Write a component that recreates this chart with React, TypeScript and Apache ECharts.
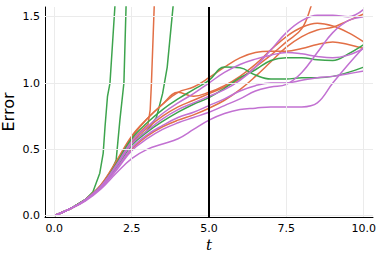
import React, { useEffect, useRef } from "react";
import * as echarts from "echarts";

const GREEN = "#3da44d";
const ORANGE = "#e26f46";
const PURPLE = "#c271d2";

const xTicks = [0, 2.5, 5, 7.5, 10];
const yTicks = [0, 0.5, 1.0, 1.5];
const markT = 5;

const tStd = [0, 0.5, 1, 1.5, 2, 2.5, 3, 3.5, 4, 4.5, 5, 5.5, 6, 6.5, 7, 7.5, 8, 8.5, 9, 9.5, 10];

const greenE = [0, 0.05, 0.12, 0.22, 0.39, 0.58, 0.7, 0.8, 0.88, 0.95, 1.02, 1.12, 1.115, 1.06, 1.03, 1.03, 1.04, 1.04, 1.05, 1.08, 1.12];
const greenF = [0, 0.05, 0.12, 0.22, 0.36, 0.53, 0.63, 0.71, 0.78, 0.84, 0.89, 0.96, 1.04, 1.1, 1.17, 1.19, 1.19, 1.175, 1.17, 1.22, 1.29];
const orangeO2 = [0, 0.05, 0.12, 0.23, 0.4, 0.59, 0.73, 0.84, 0.93, 0.9, 0.93, 0.98, 1.05, 1.14, 1.25, 1.35, 1.42, 1.45, 1.43, 1.38, 1.31];
const orangeO3 = [0, 0.05, 0.115, 0.21, 0.35, 0.5, 0.6, 0.67, 0.72, 0.76, 0.81, 0.87, 0.95, 1.05, 1.16, 1.27, 1.35, 1.4, 1.42, 1.47, 1.52];
const orangeO4 = [0, 0.05, 0.12, 0.23, 0.41, 0.6, 0.73, 0.84, 0.93, 0.97, 1.04, 1.12, 1.19, 1.23, 1.24, 1.24, 1.26, 1.29, 1.31, 1.29, 1.26];
const purpleP1 = [0, 0.05, 0.12, 0.22, 0.37, 0.54, 0.64, 0.73, 0.8, 0.85, 0.9, 0.95, 1.02, 1.12, 1.25, 1.38, 1.47, 1.51, 1.51, 1.5, 1.555];
const purpleP2 = [0, 0.05, 0.12, 0.22, 0.38, 0.56, 0.67, 0.77, 0.85, 0.92, 1.0, 1.08, 1.14, 1.18, 1.21, 1.23, 1.22, 1.2, 1.19, 1.21, 1.26];
const purpleP3 = [0, 0.05, 0.115, 0.21, 0.35, 0.51, 0.61, 0.68, 0.74, 0.78, 0.83, 0.88, 0.94, 0.98, 1.0, 1.0, 1.02, 1.04, 1.05, 1.07, 1.09];
const purpleP4 = [0, 0.05, 0.115, 0.21, 0.34, 0.49, 0.58, 0.65, 0.7, 0.74, 0.78, 0.83, 0.88, 0.94, 0.97, 0.99, 1.08, 1.23, 1.38, 1.47, 1.5];
const purpleP5 = [0, 0.05, 0.11, 0.2, 0.32, 0.43, 0.5, 0.54, 0.58, 0.65, 0.72, 0.77, 0.8, 0.81, 0.82, 0.82, 0.82, 0.85, 1.0, 1.14, 1.27];

const tO1 = [0, 0.5, 1, 1.5, 2, 2.5, 3, 3.5, 4, 4.5, 5, 5.5, 6, 6.5, 7, 7.5, 8, 8.3, 8.5];
const orangeO1 = [0, 0.05, 0.115, 0.22, 0.38, 0.55, 0.66, 0.75, 0.82, 0.87, 0.92, 0.97, 1.03, 1.12, 1.21, 1.31, 1.41, 1.58, 1.75];

const tA = [0, 0.5, 1, 1.25, 1.47, 1.58, 1.64, 1.72, 1.8, 1.96, 2.0];
const greenA = [0, 0.05, 0.12, 0.18, 0.32, 0.47, 0.67, 0.9, 1.0, 1.58, 1.7];

const tB = [0, 0.5, 1, 1.5, 1.75, 2.0, 2.12, 2.25, 2.32, 2.4];
const greenB = [0, 0.05, 0.12, 0.22, 0.29, 0.42, 0.72, 1.0, 1.58, 1.9];

const tC = [0, 0.5, 1, 1.5, 2, 2.5, 2.9, 3.03, 3.1, 3.14, 3.23, 3.3];
const orangeC = [0, 0.05, 0.12, 0.22, 0.39, 0.57, 0.66, 0.69, 0.8, 1.0, 1.58, 1.9];

const tD = [0, 0.5, 1, 1.5, 2, 2.5, 3, 3.3, 3.5, 3.65, 3.84, 3.9];
const greenD = [0, 0.05, 0.12, 0.22, 0.38, 0.55, 0.64, 0.74, 0.92, 1.12, 1.58, 1.75];

const lines: { t: number[]; v: number[]; color: string; smooth: boolean }[] = [
  { t: tA, v: greenA, color: GREEN, smooth: false },
  { t: tB, v: greenB, color: GREEN, smooth: false },
  { t: tC, v: orangeC, color: ORANGE, smooth: false },
  { t: tD, v: greenD, color: GREEN, smooth: false },
  { t: tO1, v: orangeO1, color: ORANGE, smooth: true },
  { t: tStd, v: orangeO2, color: ORANGE, smooth: true },
  { t: tStd, v: orangeO3, color: ORANGE, smooth: true },
  { t: tStd, v: orangeO4, color: ORANGE, smooth: true },
  { t: tStd, v: greenE, color: GREEN, smooth: true },
  { t: tStd, v: greenF, color: GREEN, smooth: true },
  { t: tStd, v: purpleP1, color: PURPLE, smooth: true },
  { t: tStd, v: purpleP2, color: PURPLE, smooth: true },
  { t: tStd, v: purpleP3, color: PURPLE, smooth: true },
  { t: tStd, v: purpleP4, color: PURPLE, smooth: true },
  { t: tStd, v: purpleP5, color: PURPLE, smooth: true },
];

export default function App() {
  const ref = useRef<HTMLDivElement>(null);
  useEffect(() => {
    if (!ref.current) return;
    const chart = echarts.init(ref.current, undefined, { renderer: "svg" });
    const series: any[] = [
      {
        type: "line",
        data: [],
        silent: true,
        z: 0,
        markLine: {
          silent: true,
          symbol: "none",
          label: { show: false },
          lineStyle: { color: "#ebebeb", width: 1, type: "solid" },
          data: [
            ...xTicks.map((x) => ({ xAxis: x })),
            ...yTicks.map((y) => ({ yAxis: y })),
          ],
        },
      },
      ...lines.map((l) => ({
        type: "line",
        data: l.t.map((x, i) => [x, l.v[i]]),
        smooth: l.smooth ? 0.4 : false,
        showSymbol: false,
        symbol: "none",
        clip: true,
        lineStyle: { color: l.color, width: 1.5 },
        itemStyle: { color: l.color },
        z: 2,
      })),
      {
        type: "line",
        data: [],
        silent: true,
        z: 5,
        markLine: {
          silent: true,
          symbol: "none",
          label: { show: false },
          lineStyle: { color: "#000", width: 2, type: "solid" },
          data: [{ xAxis: markT }],
        },
      },
    ];
    chart.setOption({
      animation: false,
      backgroundColor: "#fff",
      grid: { left: 45, right: 8, top: 7, bottom: 37, containLabel: false, outerBoundsMode: "none" },
      xAxis: {
        type: "value",
        min: -0.3,
        max: 10.3,
        name: "t",
        nameLocation: "middle",
        nameGap: 20,
        nameMoveOverlap: false,
        nameTextStyle: { fontFamily: "DejaVu Serif", fontStyle: "italic", fontSize: 15, color: "#000" },
        axisLine: { show: true, onZero: false, lineStyle: { color: "#000", width: 1 } },
        axisTick: { show: true, inside: true, length: 4, customValues: xTicks, lineStyle: { color: "#000" } },
        axisLabel: {
          customValues: xTicks,
          formatter: (v: number) => v.toFixed(1),
          fontFamily: "DejaVu Sans",
          fontSize: 11,
          color: "#000",
          margin: 6,
        },
        splitLine: { show: false },
      },
      yAxis: {
        type: "value",
        min: -0.01,
        max: 1.573,
        name: "Error",
        nameLocation: "middle",
        nameGap: 29,
        nameRotate: 90,
        nameMoveOverlap: false,
        nameTextStyle: { fontFamily: "DejaVu Sans", fontSize: 16, color: "#000" },
        axisLine: { show: true, onZero: false, lineStyle: { color: "#000", width: 1 } },
        axisTick: { show: true, inside: true, length: 4, customValues: yTicks, lineStyle: { color: "#000" } },
        axisLabel: {
          customValues: yTicks,
          formatter: (v: number) => v.toFixed(1),
          fontFamily: "DejaVu Sans",
          fontSize: 11,
          color: "#000",
          margin: 5,
        },
        splitLine: { show: false },
      },
      series,
    });
    return () => chart.dispose();
  }, []);
  return <div ref={ref} style={{ width: 381, height: 254, position: "absolute", left: 0, top: 0 }} />;
}
